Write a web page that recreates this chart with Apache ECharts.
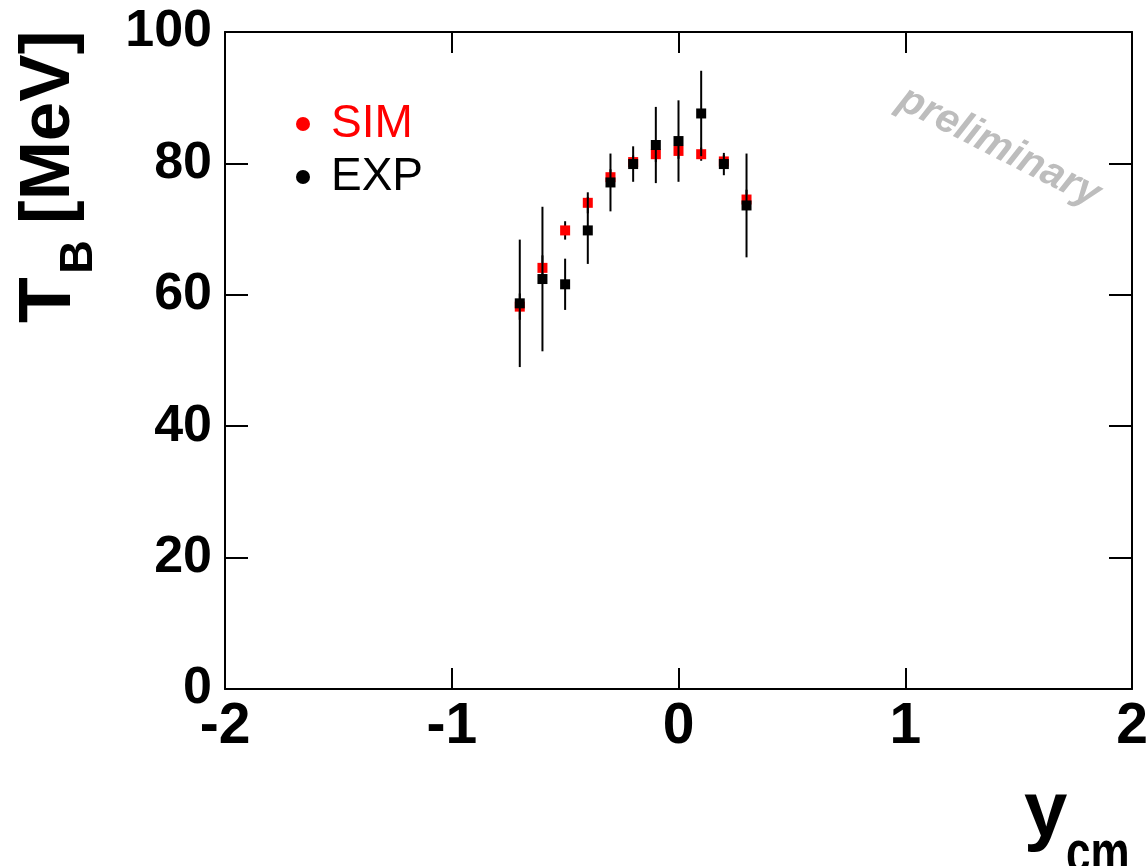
<!DOCTYPE html>
<html>
<head>
<meta charset="utf-8">
<script src="https://cdn.jsdelivr.net/npm/echarts@6/dist/echarts.min.js"></script>
<style>html,body{margin:0;padding:0;background:#fff;}#c{width:1146px;height:866px;}</style>
</head>
<body>
<div id="c"></div>
<script>
// ---- data ----
const yCm = [-0.7, -0.6, -0.5, -0.4, -0.3, -0.2, -0.1, 0.0, 0.1, 0.2, 0.3];
const simT = [58.2, 64.1, 69.8, 74.0, 77.9, 80.2, 81.4, 81.9, 81.4, 80.3, 74.5];
const simErr = [2.0, 1.9, 1.4, 1.6, 1.2, 1.0, 1.2, 1.2, 1.0, 1.0, 1.5];
const expT = [58.7, 62.4, 61.6, 69.8, 77.1, 79.9, 82.8, 83.4, 87.6, 79.9, 73.6];
const expErr = [9.7, 11.0, 3.9, 5.1, 4.4, 2.7, 5.8, 6.2, 6.5, 1.7, 7.9];
const xTicks = [-2, -1, 0, 1, 2];
const yTicks = [0, 20, 40, 60, 80, 100];

const FONT = 'Liberation Sans';
const simPts = yCm.map((x, i) => [x, simT[i]]);
const expPts = yCm.map((x, i) => [x, expT[i]]);
const simErrPts = yCm.map((x, i) => [x, simT[i], simErr[i]]);
const expErrPts = yCm.map((x, i) => [x, expT[i], expErr[i]]);

function errRender(params, api) {
  const x = api.value(0), y = api.value(1), e = api.value(2);
  const p1 = api.coord([x, y - e]);
  const p2 = api.coord([x, y + e]);
  return {
    type: 'line',
    shape: { x1: p1[0], y1: p1[1], x2: p2[0], y2: p2[1] },
    style: { stroke: '#000', lineWidth: 2 }
  };
}

const axisLine = { show: true, onZero: false, lineStyle: { color: '#000', width: 2 } };

const chart = echarts.init(document.getElementById('c'), null, { renderer: 'canvas' });
chart.setOption({
  animation: false,
  backgroundColor: '#fff',
  grid: { left: 225, right: 14, top: 32, bottom: 177, containLabel: false, outerBoundsMode: 'none' },
  xAxis: [
    {
      type: 'value', min: xTicks[0], max: xTicks[xTicks.length - 1], interval: 1,
      axisLine: axisLine,
      axisTick: { show: true, inside: true, length: 21, lineStyle: { color: '#000', width: 2 } },
      axisLabel: { show: true, margin: 10, color: '#000', fontFamily: FONT, fontWeight: 'bold', fontSize: 57,
        hideOverlap: false, formatter: v => String(v) },
      splitLine: { show: false }
    },
    {
      type: 'value', position: 'top', min: xTicks[0], max: xTicks[xTicks.length - 1], interval: 1,
      axisLine: axisLine,
      axisTick: { show: true, inside: true, length: 21, lineStyle: { color: '#000', width: 2 } },
      axisLabel: { show: false }, splitLine: { show: false }
    }
  ],
  yAxis: [
    {
      type: 'value', min: yTicks[0], max: yTicks[yTicks.length - 1], interval: 20,
      axisLine: axisLine,
      axisTick: { show: true, inside: true, length: 23, lineStyle: { color: '#000', width: 2 } },
      axisLabel: { show: true, margin: 13, color: '#000', fontFamily: FONT, fontWeight: 'bold', fontSize: 52 },
      splitLine: { show: false }
    },
    {
      type: 'value', position: 'right', min: yTicks[0], max: yTicks[yTicks.length - 1], interval: 20,
      axisLine: axisLine,
      axisTick: { show: true, inside: true, length: 23, lineStyle: { color: '#000', width: 2 } },
      axisLabel: { show: false }, splitLine: { show: false }
    }
  ],
  legend: {
    orient: 'vertical', left: 291, top: 96, itemWidth: 46, itemHeight: 14, itemGap: 7,
    icon: 'circle', selectedMode: false,
    textStyle: { fontFamily: FONT, fontSize: 46, lineHeight: 46, padding: [0, 0, 0, 0] },
    data: [
      { name: 'SIM', itemStyle: { color: '#ff0000', opacity: 1 }, textStyle: { color: '#ff0000' } },
      { name: 'EXP', itemStyle: { color: '#000000', opacity: 1 }, textStyle: { color: '#000000' } }
    ]
  },
  series: [
    { name: 'SIM err', type: 'custom', renderItem: errRender, data: simErrPts, z: 2, silent: true },
    { name: 'SIM', type: 'scatter', data: simPts, symbol: 'rect', symbolSize: 10,
      itemStyle: { color: '#ff0000', opacity: 1 }, z: 3, silent: true },
    { name: 'EXP', type: 'scatter', data: expPts, symbol: 'rect', symbolSize: 10,
      itemStyle: { color: '#000000', opacity: 1 }, z: 4, silent: true },
    { name: 'EXP err', type: 'custom', renderItem: errRender, data: expErrPts, z: 5, silent: true }
  ],
  graphic: [
    {
      type: 'group', x: 49, y: 323, rotation: Math.PI / 2,
      children: [
        { type: 'text', x: 0, y: 0, style: { text: 'T', fontFamily: FONT, fontWeight: 'bold', fontSize: 75, fill: '#000', align: 'left', verticalAlign: 'middle' } },
        { type: 'text', x: 49, y: 30, style: { text: 'B', fontFamily: FONT, fontWeight: 'bold', fontSize: 47, fill: '#000', align: 'left', verticalAlign: 'middle' } },
        { type: 'text', x: 99, y: 0, style: { text: '[MeV]', fontFamily: FONT, fontWeight: 'bold', fontSize: 71, fill: '#000', align: 'left', verticalAlign: 'middle' } }
      ]
    },
    { type: 'text', x: 1024, y: 814, style: { text: 'y', fontFamily: FONT, fontWeight: 'bold', fontSize: 78, fill: '#000', align: 'left', verticalAlign: 'middle' } },
    { type: 'text', x: 1066, y: 856, scaleY: 1.35, style: { text: 'cm', fontFamily: FONT, fontWeight: 'bold', fontSize: 44, fill: '#000', align: 'left', verticalAlign: 'middle' } },
    { type: 'text', x: 999, y: 147, rotation: -27 * Math.PI / 180,
      style: { text: 'preliminary', fontFamily: FONT, fontWeight: 'bold', fontStyle: 'italic', fontSize: 41, fill: '#bdbdbd', align: 'center', verticalAlign: 'middle' } }
  ]
});
</script>
</body>
</html>
